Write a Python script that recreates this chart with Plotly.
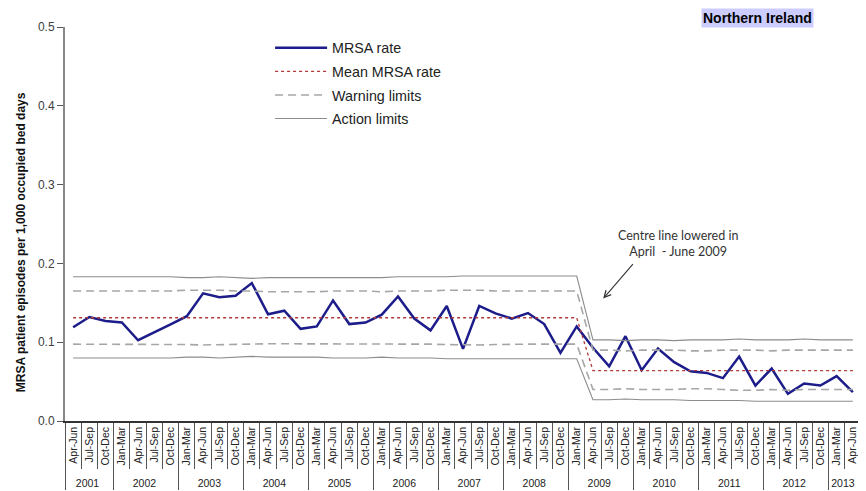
import plotly.graph_objects as go

# ---- data ----
year_labels = (["2001"] * 3 + [str(y) for y in range(2002, 2013) for _ in range(4)] + ["2013"] * 2)
# first-year labels carry a zero-width space so the multicategory axis keeps
# the Jan-Mar, Apr-Jun, Jul-Sep, Oct-Dec order inside every later year
quarter_labels = (["Apr-Jun\u200b", "Jul-Sep\u200b", "Oct-Dec\u200b"]
                  + ["Jan-Mar", "Apr-Jun", "Jul-Sep", "Oct-Dec"] * 11
                  + ["Jan-Mar", "Apr-Jun"])

mrsa_rate = [0.119, 0.132, 0.127, 0.125, 0.1025, 0.112, 0.1225, 0.133, 0.162, 0.157,
             0.159, 0.175, 0.1355, 0.140, 0.117, 0.120, 0.153, 0.123, 0.125, 0.135,
             0.158, 0.130, 0.115, 0.146, 0.0916, 0.146, 0.1365, 0.130, 0.137, 0.123,
             0.0865, 0.120, 0.093, 0.0695, 0.1076, 0.0645, 0.092, 0.0747, 0.063, 0.061,
             0.0544, 0.0818, 0.045, 0.0666, 0.0345, 0.0476, 0.045, 0.0569, 0.0366]

mean_rate = [0.131] * 32 + [0.064] * 17

warn_upper = [0.165, 0.165, 0.165, 0.165, 0.165, 0.165, 0.165, 0.166, 0.166, 0.166,
              0.165, 0.165, 0.164, 0.164, 0.164, 0.164, 0.165, 0.165, 0.165, 0.164,
              0.165, 0.165, 0.165, 0.166, 0.166, 0.166, 0.165, 0.165, 0.165, 0.165,
              0.165, 0.165, 0.090, 0.090, 0.089, 0.090, 0.090, 0.090, 0.089, 0.089,
              0.090, 0.090, 0.090, 0.089, 0.090, 0.090, 0.090, 0.090, 0.090]
warn_lower = [0.0975, 0.0975, 0.0975, 0.0975, 0.0975, 0.0975, 0.0975, 0.0970, 0.0965, 0.0970,
              0.0975, 0.0980, 0.0980, 0.0980, 0.0980, 0.0980, 0.0975, 0.0975, 0.0975, 0.0980,
              0.0975, 0.0975, 0.0975, 0.0970, 0.0965, 0.0965, 0.0970, 0.0975, 0.0975, 0.0975,
              0.0975, 0.0975, 0.040, 0.040, 0.041, 0.040, 0.040, 0.040, 0.041, 0.041,
              0.040, 0.039, 0.039, 0.040, 0.039, 0.040, 0.040, 0.040, 0.040]
action_upper = [0.183, 0.183, 0.183, 0.183, 0.183, 0.183, 0.183, 0.182, 0.182, 0.183,
                0.182, 0.181, 0.182, 0.182, 0.182, 0.182, 0.182, 0.182, 0.182, 0.182,
                0.183, 0.183, 0.183, 0.183, 0.184, 0.184, 0.184, 0.184, 0.184, 0.184,
                0.184, 0.184, 0.103, 0.103, 0.102, 0.103, 0.103, 0.102, 0.103, 0.103,
                0.103, 0.104, 0.103, 0.103, 0.103, 0.104, 0.103, 0.103, 0.103]
action_lower = [0.080, 0.080, 0.080, 0.080, 0.080, 0.080, 0.080, 0.081, 0.081, 0.080,
                0.081, 0.082, 0.081, 0.081, 0.081, 0.081, 0.080, 0.080, 0.080, 0.081,
                0.080, 0.080, 0.080, 0.079, 0.079, 0.079, 0.079, 0.079, 0.079, 0.079,
                0.079, 0.079, 0.027, 0.027, 0.028, 0.027, 0.027, 0.027, 0.026, 0.026,
                0.026, 0.026, 0.025, 0.025, 0.025, 0.025, 0.025, 0.025, 0.025]

y_ticks = [0.0, 0.1, 0.2, 0.3, 0.4, 0.5]

FONT = "Arial, Liberation Sans, sans-serif"
x = [year_labels, quarter_labels]
n_cat = len(mrsa_rate)

fig = go.Figure()
fig.add_trace(go.Scatter(x=x, y=mrsa_rate, mode="lines", name="MRSA rate",
                         line=dict(color="#1c1c8a", width=2.5), legendgroup="a"))
fig.add_trace(go.Scatter(x=x, y=mean_rate, mode="lines", name="Mean MRSA rate",
                         line=dict(color="#b03a3a", width=1.3, dash="dot"), legendgroup="b"))
fig.add_trace(go.Scatter(x=x, y=warn_upper, mode="lines", name="Warning limits",
                         line=dict(color="#a6a6a6", width=1.6, dash="8px,5px"), legendgroup="c"))
fig.add_trace(go.Scatter(x=x, y=warn_lower, mode="lines", name="Warning limits",
                         line=dict(color="#a6a6a6", width=1.6, dash="8px,5px"), legendgroup="c",
                         showlegend=False))
fig.add_trace(go.Scatter(x=x, y=action_upper, mode="lines", name="Action limits",
                         line=dict(color="#8c8c8c", width=1.1), legendgroup="d"))
fig.add_trace(go.Scatter(x=x, y=action_lower, mode="lines", name="Action limits",
                         line=dict(color="#8c8c8c", width=1.1), legendgroup="d",
                         showlegend=False))

# page body has an 8px margin: the figure is sized so that it fills the window
OFF = 8
W, H = 866 - OFF, 491 - OFF
L, R, T, B = 65 - OFF, W - (860.7 - OFF), 27 - OFF, H - (421.5 - OFF)
PW, PH = W - L - R, H - T - B


def px(sx):
    return (sx - OFF - L) / PW


def py(sy):
    return (H - B - (sy - OFF)) / PH


fig.update_layout(
    width=W, height=H,
    margin=dict(l=L, r=R, t=T, b=B, autoexpand=False),
    paper_bgcolor="white", plot_bgcolor="white",
    font=dict(family=FONT, color="#222222"),
    showlegend=True,
    legend=dict(x=px(270), y=py(32), xanchor="left", yanchor="top",
                font=dict(family=FONT, size=14.3, color="#222222"),
                bgcolor="rgba(0,0,0,0)", itemwidth=52, tracegroupgap=2,
                traceorder="grouped"),
    xaxis=dict(
        type="multicategory", automargin=False,
        range=[-0.5, n_cat - 0.5],
        showline=True, linecolor="#333333", linewidth=1.5,
        ticks="outside", ticklen=46, tickcolor="#555555", tickwidth=1,
        tickangle=-90,
        tickfont=dict(family=FONT, size=10.5, color="#222222"),
        showdividers=True, dividercolor="#555555", dividerwidth=1,
        showgrid=False, zeroline=False,
    ),
    yaxis=dict(
        range=[0, 0.5], tickvals=y_ticks, tickformat=".1f", automargin=False,
        showline=True, linecolor="#888888", linewidth=2,
        ticks="outside", ticklen=6, tickcolor="#555555",
        tickfont=dict(family=FONT, size=12, color="#404040"),
        showgrid=False, zeroline=False,
    ),
)

fig.add_annotation(
    text="<b>MRSA patient episodes per 1,000 occupied bed days</b>",
    textangle=-90, xref="paper", yref="paper",
    x=px(20.5), y=py(242), xanchor="center", yanchor="middle",
    showarrow=False, font=dict(family=FONT, size=12, color="#111111"))

fig.add_annotation(
    text="<b>Northern Ireland</b>", xref="paper", yref="paper",
    x=px(757), y=py(18), xanchor="center", yanchor="middle",
    showarrow=False, bgcolor="#ccccff", borderpad=1,
    font=dict(family=FONT, size=14, color="#000000"))

fig.add_annotation(
    text="Centre line lowered in<br>April  - June 2009", xref="paper", yref="paper",
    x=px(677.5), y=py(244), xanchor="center", yanchor="middle",
    showarrow=False, align="center",
    font=dict(family="Lato, sans-serif", size=12.5, color="#333333"))

fig.add_annotation(
    text="", xref="paper", yref="y",
    x=px(603), y=0.1553, ax=31, ay=-36,
    showarrow=True, arrowhead=5, arrowsize=1.2, arrowwidth=1.1, arrowcolor="#333333")

fig.write_html("out.html")
